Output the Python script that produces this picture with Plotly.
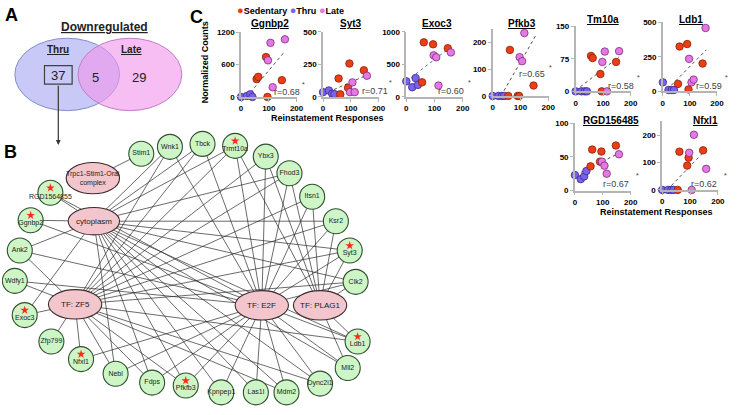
import plotly.graph_objects as go

W, H = 738, 415
FONT = "Arial, 'Liberation Sans', sans-serif"

# ---------------- Panel A : Venn data ----------------
venn_title = "Downregulated"
venn_set_labels = ["Thru", "Late"]
venn_counts = [37, 5, 29]          # Thru only, both, Late only

# ---------------- Panel B : network data ----------------
hub_labels = ["Trpc1-Stim1-Orai<br>complex", "cytoplasm", "TF: ZF5", "TF: E2F", "TF: PLAG1"]
gene_labels = ["Stim1", "Wnk1", "Tbck", "Trmt10a", "Ybx3", "Fhod3", "Itsn1", "Ksr2", "Syt3",
               "Clk2", "Ldb1", "Mll2", "Dync2i1", "Mdm2", "Las1l", "Kpnpep1", "Pfkfb3", "Fdps",
               "Nebl", "Nfxl1", "Zfp799", "Exoc3", "Wdfy1", "Ank2", "Ggnbp2", "RGD1564855"]
starred_genes = ["Trmt10a", "Syt3", "Ldb1", "Pfkfb3", "Nfxl1", "Exoc3", "Ggnbp2", "RGD1564855"]
hub_edges = {
    "Trpc1-Stim1-Orai<br>complex": ["Stim1"],
    "cytoplasm": ["RGD1564855", "Ggnbp2", "Ank2", "Wnk1", "Tbck", "Trmt10a", "Fhod3", "Ksr2",
                  "Syt3", "Clk2", "Ldb1", "Mll2", "Dync2i1", "Mdm2", "Las1l", "Kpnpep1",
                  "Pfkfb3", "Fdps", "Nebl", "Exoc3"],
    "TF: ZF5": ["Ank2", "Wdfy1", "Exoc3", "Zfp799", "Nfxl1", "Nebl", "Fdps", "Wnk1", "Tbck",
                "Trmt10a", "Ybx3", "Fhod3", "Itsn1", "Ksr2", "Syt3", "Clk2", "Ldb1", "Mdm2",
                "Dync2i1", "Pfkfb3"],
    "TF: E2F": ["Wnk1", "Tbck", "Trmt10a", "Ybx3", "Fhod3", "Itsn1", "Ksr2", "Syt3", "Ggnbp2",
                "Ank2", "Wdfy1", "Nfxl1", "Nebl", "Fdps", "Pfkfb3", "Kpnpep1", "Las1l", "Mdm2",
                "Dync2i1", "Mll2", "Ldb1", "Clk2", "RGD1564855"],
    "TF: PLAG1": ["Trmt10a", "Ybx3", "Fhod3", "Itsn1", "Ksr2", "Syt3", "Clk2", "Ldb1", "Mll2"],
}

# ---------------- Panel C : scatter data ----------------
group_names = ["Sedentary", "Thru", "Late"]
sed_x = [56, 62, 90, 95, 147]
thru_x = [0, 21, 33, 41]
late_x = [97, 106, 114, 158]

gene_names = ["Ggnbp2", "Syt3", "Exoc3", "Pfkb3", "Tm10a", "Ldb1", "RGD156485", "Nfxl1"]
sed_y = [
    [330, 372, 738, 0, 311],
    [142, 20, 70, 257, 205],
    [225, 840, None, 810, 750],
    [0, 172, 0, 0, 39],
    [82, 77, 40, 0, 68],
    [54, 324, 342, 14, 201],
    [36, 61, 43, 58, 67],
    [0, 140, 89, 118, 145],
]
thru_y = [
    [0, 18, 48, 0],
    [37, 50, 25, 22],
    [240, 150, 290, 185],
    [0, 0, 0, 0],
    [0, 0, 0, 0],
    [65, 10, 10, 10],
    [23, 17, 21, 29],
    [0, 0, 0, 0],
]
late_y = [
    [678, 1002, 180, 1067],
    [37, 112, 37, 163],
    [640, 610, 175, 685],
    [145, 130, 235, None],
    [68, 92, 0, 93],
    [235, 65, 85, 458],
    [43, 37, 25, 54],
    [136, 0, 202, 77],
]
fit_x = [[20, 157], [0, 160], [0, 155], [30, 159], [0, 158], [16, 161], [2, 165], [18, 160]]
fit_y = [[0, 840], [20, 170], [240, 760], [0, 233], [2, 80], [14, 300], [23, 57], [0, 150]]
r_values = [0.68, 0.71, 0.60, 0.65, 0.58, 0.59, 0.67, 0.62]
y_max = [1200, 500, 1000, 250, 150, 500, 100, 250]
y_ticks = [[0, 600, 1200], [0, 250, 500], [0, 500, 1000], [0, 100, 200],
           [0, 75, 150], [0, 250, 500], [0, 50, 100], [0, 100, 200]]
x_ticks = [0, 100, 200]

# ---------------- styles / layout geometry (pixels) ----------------
SED_C, SED_L = "#ec3d17", "#8a2208"
THRU_C, THRU_L = "#7b62ee", "#3a2a8c"
LATE_C, LATE_L = "#e478e4", "#7d2f7d"
NODE_GREEN, NODE_EDGE = "#cdf5c6", "#2f4f2f"
HUB_PINK = "#f3c6cd"

gene_pos = {
    "Stim1": (141, 153), "Wnk1": (170, 146), "Tbck": (203, 143), "Trmt10a": (236, 145),
    "Ybx3": (267, 156), "Fhod3": (291, 173), "Itsn1": (314, 197), "Ksr2": (338, 222),
    "Syt3": (352, 252), "Clk2": (358, 284), "Ldb1": (360, 345), "Mll2": (350, 372),
    "Dync2i1": (322, 388), "Mdm2": (288, 397), "Las1l": (257, 397), "Kpnpep1": (222, 397),
    "Pfkfb3": (186, 390), "Fdps": (152, 387), "Nebl": (115, 378), "Nfxl1": (80, 363),
    "Zfp799": (50, 345), "Exoc3": (23, 318), "Wdfy1": (13, 283), "Ank2": (18, 252),
    "Ggnbp2": (29, 221), "RGD1564855": (49, 193),
}
hub_geom = {  # cx, cy, rx, ry
    "Trpc1-Stim1-Orai<br>complex": (92, 178, 27, 16),
    "cytoplasm": (93, 222, 26, 14),
    "TF: ZF5": (74, 307, 27, 15),
    "TF: E2F": (263, 308, 27, 15),
    "TF: PLAG1": (322, 308, 27, 15),
}
# x0px, x200px, y0px, ytop_px, title(x,y), r(x,y), star(x,y)
sub_geom = [
    (242, 298.5, 95, 28.5, (271, 20), (289, 90), (305, 82)),
    (325, 381.5, 95, 28.3, (353, 20), (378, 89), (393, 80)),
    (409.3, 466.7, 95, 28.3, (440, 20), (455, 89), (473, 80)),
    (496.7, 553.3, 94, 25.3, (526, 20), (537, 72), (555, 65)),
    (580.7, 636.7, 89.3, 22.7, (608, 16), (627, 84), (644, 75)),
    (669, 724, 89.3, 18.3, (697, 16), (716, 84), (733, 75)),
    (580, 636.7, 190.7, 121.7, (617, 119), (622, 184), (643, 175)),
    (668.3, 725, 190, 120, (712, 119), (711, 184), (732, 175)),
]

fig = go.Figure()
shapes, annos = [], []

def txt(x, y, text, size=9, color="black", bold=False, **kw):
    d = dict(x=x, y=y, xref="x", yref="y", text=(f"<b>{text}</b>" if bold else text),
             showarrow=False, font=dict(family=FONT, size=size, color=color))
    d.update(kw)
    annos.append(d)

# ---------------- Panel A ----------------
shapes.append(dict(type="circle", xref="x", yref="y", x0=13, x1=119, y0=35, y1=109,
                   fillcolor="#c9c9f7", line=dict(color="#7f8fcf", width=1), layer="below"))
shapes.append(dict(type="circle", xref="x", yref="y", x0=77, x1=182, y0=35, y1=109,
                   fillcolor="rgba(240,150,235,0.62)", line=dict(color="#c27cc9", width=1), layer="below"))
shapes.append(dict(type="rect", xref="x", yref="y", x0=43, x1=71, y0=63, y1=82,
                   line=dict(color="#404040", width=1.2), layer="below"))
txt(104, 24, f"<u>{venn_title}</u>", size=12, bold=True, color="#222")
txt(57, 46, f"<u>{venn_set_labels[0]}</u>", size=10, bold=True, color="#222")
txt(131, 46, f"<u>{venn_set_labels[1]}</u>", size=10, bold=True, color="#222")
txt(57, 73, str(venn_counts[0]), size=13, color="#222")
txt(95, 75, str(venn_counts[1]), size=13, color="#222")
txt(139, 75, str(venn_counts[2]), size=13, color="#222")
annos.append(dict(x=57, y=144, ax=57, ay=82, xref="x", yref="y", axref="x", ayref="y",
                  text="", showarrow=True, arrowhead=2, arrowsize=0.8, arrowwidth=1.2,
                  arrowcolor="#333"))

# panel letters
txt(10, 11, "A", size=18, bold=True)
txt(9, 151, "B", size=18, bold=True)
txt(197, 13, "C", size=18, bold=True)

# ---------------- Panel B ----------------
ex, ey = [], []
for hub, genes in hub_edges.items():
    hx, hy = hub_geom[hub][:2]
    for g in genes:
        gx, gy = gene_pos[g]
        ex += [hx, gx, None]
        ey += [hy, gy, None]
fig.add_trace(go.Scatter(x=ex, y=ey, mode="lines", line=dict(color="#2b2b2b", width=0.7),
                         hoverinfo="skip", showlegend=False, xaxis="x", yaxis="y"))
gx = [gene_pos[g][0] for g in gene_labels]
gy = [gene_pos[g][1] for g in gene_labels]
fig.add_trace(go.Scatter(x=gx, y=gy, mode="markers", showlegend=False, hoverinfo="skip",
                         marker=dict(size=25, color=NODE_GREEN, line=dict(color=NODE_EDGE, width=1.1))))
ly = [gene_pos[g][1] + (3 if g in starred_genes else 0) + (2 if g == "RGD1564855" else 0)
      for g in gene_labels]
fig.add_trace(go.Scatter(x=gx, y=ly, mode="text", text=gene_labels, showlegend=False,
                         hoverinfo="skip", textfont=dict(family=FONT, size=7, color="#222")))
sx = [gene_pos[g][0] for g in starred_genes]
sy = [gene_pos[g][1] - 5 for g in starred_genes]
fig.add_trace(go.Scatter(x=sx, y=sy, mode="markers", showlegend=False, hoverinfo="skip",
                         marker=dict(symbol="star", size=6.5, color="#ff2a1a", line=dict(width=0))))
for hub in hub_labels:
    cx, cy, rx, ry = hub_geom[hub]
    shapes.append(dict(type="circle", xref="x", yref="y", x0=cx - rx, x1=cx + rx,
                       y0=cy - ry, y1=cy + ry, fillcolor=HUB_PINK,
                       line=dict(color="#3a2a2a", width=1.1), layer="above"))
    txt(cx, cy, hub, size=7 if "complex" in hub else 8, color="#222")

# ---------------- Panel C ----------------
for i, name in enumerate(gene_names):
    x0p, x2p, y0p, ytp, tpos, rpos, spos = sub_geom[i]
    n = i + 2
    xa, ya = f"x{n}", f"y{n}"
    common = dict(showgrid=False, zeroline=False, showline=True, linecolor="#b5b5b5",
                  linewidth=1.5, ticks="outside", ticklen=3, tickcolor="#b5b5b5",
                  tickfont=dict(family=FONT, size=8, color="black", weight="bold"),
                  fixedrange=True)
    fig.update_layout(**{
        f"xaxis{n}": dict(domain=[x0p / W, x2p / W], range=[0, 201], anchor=ya,
                          tickvals=x_ticks, **common),
        f"yaxis{n}": dict(domain=[1 - y0p / H, 1 - ytp / H], range=[0, y_max[i] * 1.004],
                          anchor=xa, tickvals=y_ticks[i], **common),
    })
    fig.add_trace(go.Scatter(x=fit_x[i], y=fit_y[i], mode="lines", xaxis=xa, yaxis=ya,
                             line=dict(color="#4a6fc0" if name == "Exoc3" else "#505050",
                                       width=1, dash="dot"),
                             showlegend=False, hoverinfo="skip"))
    for xs, ys, fc, lc, gname in [(thru_x, thru_y[i], THRU_C, THRU_L, group_names[1]),
                                  (sed_x, sed_y[i], SED_C, SED_L, group_names[0]),
                                  (late_x, late_y[i], LATE_C, LATE_L, group_names[2])]:
        fig.add_trace(go.Scatter(x=xs, y=ys, mode="markers", xaxis=xa, yaxis=ya, name=gname,
                                 cliponaxis=False, showlegend=False,
                                 marker=dict(size=7.5, color=fc, line=dict(color=lc, width=0.8))))
    txt(tpos[0], tpos[1], f"<u>{name}</u>", size=10, bold=True)
    txt(rpos[0], rpos[1], f"r={r_values[i]:.2f}", size=9, color="#404040")
    txt(spos[0], spos[1], "*", size=7, color="#404040")

txt(205, 60, "Normalized Counts", size=9, bold=True, textangle=-90)
txt(330, 117, "Reinstatement Responses", size=9, bold=True)
txt(663, 213, "Reinstatement Responses", size=9, bold=True)
legend_text = (f'<span style="color:{SED_C};font-size:11px">●</span><b>{group_names[0]}</b> '
               f'<span style="color:{THRU_C};font-size:11px">●</span><b>{group_names[1]}</b> '
               f'<span style="color:{LATE_C};font-size:11px">●</span><b>{group_names[2]}</b>')
annos.append(dict(x=236, y=6, xref="x", yref="y", xanchor="left", text=legend_text,
                  showarrow=False, font=dict(family=FONT, size=9, color="black")))

fig.update_layout(
    width=W, height=H, margin=dict(l=0, r=0, t=0, b=0),
    paper_bgcolor="white", plot_bgcolor="rgba(0,0,0,0)",
    xaxis=dict(domain=[0, 1], range=[0, W], visible=False, fixedrange=True),
    yaxis=dict(domain=[0, 1], range=[H, 0], visible=False, fixedrange=True),
    shapes=shapes, annotations=annos, showlegend=False,
)
fig.write_html("out.html", post_script="document.body.style.margin='0px';",
               config={"displayModeBar": False})
